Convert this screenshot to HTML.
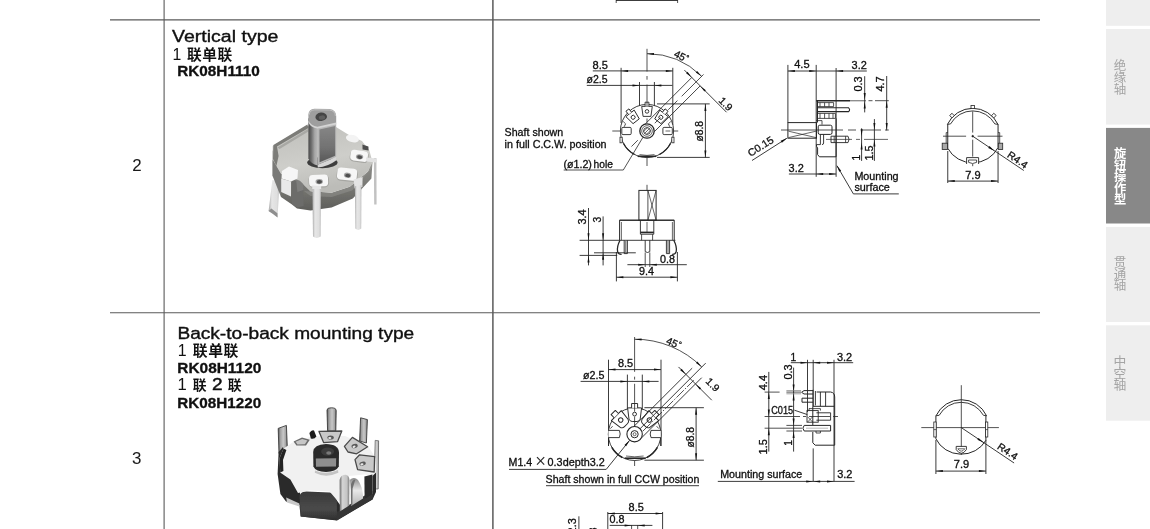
<!DOCTYPE html>
<html><head><meta charset="utf-8"><title>RK08H</title>
<style>
html,body{margin:0;padding:0;background:#fff;}
body{width:1150px;height:529px;overflow:hidden;position:relative;font-family:'Liberation Sans', sans-serif;}
svg{position:absolute;left:0;top:0;display:block;will-change:transform;}
svg text{font-family:'Liberation Sans', sans-serif;}
</style></head><body>
<svg width="1150" height="529" viewBox="0 0 1150 529">
<defs>

<filter id="soft" x="-5%" y="-5%" width="110%" height="110%"><feGaussianBlur stdDeviation="0.55"/></filter>
<filter id="soft2" x="-5%" y="-5%" width="110%" height="110%"><feGaussianBlur stdDeviation="0.9"/></filter>
<linearGradient id="p1side" x1="0" y1="0" x2="0" y2="1"><stop offset="0" stop-color="#989894"/><stop offset="0.5" stop-color="#7e7e7a"/><stop offset="1" stop-color="#5e5e5a"/></linearGradient>
<linearGradient id="p1top" x1="0" y1="0" x2="0.3" y2="1"><stop offset="0" stop-color="#bebeba"/><stop offset="0.6" stop-color="#cececa"/><stop offset="1" stop-color="#bcbcb8"/></linearGradient>
<linearGradient id="p1shaft" x1="0" y1="0" x2="0" y2="1"><stop offset="0" stop-color="#868686"/><stop offset="0.6" stop-color="#727272"/><stop offset="1" stop-color="#585858"/></linearGradient>
<linearGradient id="p1shaftL" x1="0" y1="0" x2="1" y2="0"><stop offset="0" stop-color="#4e4e4e"/><stop offset="0.3" stop-color="#6a6a6a"/><stop offset="0.7" stop-color="#a8a8a8"/><stop offset="1" stop-color="#b8b8b8"/></linearGradient>
<linearGradient id="p1leg" x1="0" y1="0" x2="1" y2="0"><stop offset="0" stop-color="#a8a8a8"/><stop offset="0.3" stop-color="#e6e6e6"/><stop offset="0.8" stop-color="#dedede"/><stop offset="1" stop-color="#b4b4b4"/></linearGradient>


<linearGradient id="p2leg" x1="0" y1="0" x2="1" y2="0"><stop offset="0" stop-color="#4a4a4a"/><stop offset="0.2" stop-color="#9c9c9c"/><stop offset="0.55" stop-color="#c8c8c8"/><stop offset="0.85" stop-color="#a0a0a0"/><stop offset="1" stop-color="#4e4e4e"/></linearGradient>
<linearGradient id="p2leg2" x1="0" y1="0" x2="1" y2="0"><stop offset="0" stop-color="#6a6a6a"/><stop offset="0.3" stop-color="#d4d4d4"/><stop offset="0.75" stop-color="#c4c4c4"/><stop offset="1" stop-color="#7a7a7a"/></linearGradient>
<linearGradient id="p2clip" x1="0" y1="0" x2="0" y2="1"><stop offset="0" stop-color="#3a3a3a"/><stop offset="0.6" stop-color="#4a4a4a"/><stop offset="1" stop-color="#2e2e2e"/></linearGradient>
<linearGradient id="p2silver" x1="0" y1="0" x2="0" y2="1"><stop offset="0" stop-color="#8a8a8a"/><stop offset="0.45" stop-color="#e8e8e8"/><stop offset="1" stop-color="#b4b4b4"/></linearGradient>

</defs>
<rect x="1106" y="0.00" width="44" height="25.80" fill="#eeeeee"/>
<rect x="1106" y="29.00" width="44" height="95.60" fill="#eeeeee"/>
<rect x="1106" y="127.90" width="44" height="95.60" fill="#888888"/>
<rect x="1106" y="226.90" width="44" height="95.10" fill="#eeeeee"/>
<rect x="1106" y="325.30" width="44" height="95.40" fill="#eeeeee"/>
<text fill="#a4a4a4" font-size="12.5" style="font-family:'Liberation Sans','Noto Sans CJK SC',sans-serif;"><tspan x="1113.77" y="70.33">绝</tspan><tspan x="1113.77" y="82.00">缘</tspan><tspan x="1113.77" y="93.67">轴</tspan></text>
<text fill="#ffffff" font-size="12.3" font-weight="bold" style="font-family:'Liberation Sans','Noto Sans CJK SC',sans-serif;"><tspan x="1113.94" y="158.14">旋</tspan><tspan x="1113.94" y="169.66">钮</tspan><tspan x="1113.94" y="181.18">操</tspan><tspan x="1113.94" y="192.70">作</tspan><tspan x="1113.94" y="204.22">型</tspan></text>
<text fill="#a4a4a4" font-size="12.5" style="font-family:'Liberation Sans','Noto Sans CJK SC',sans-serif;"><tspan x="1113.70" y="267.39">贯</tspan><tspan x="1113.70" y="278.84">通</tspan><tspan x="1113.70" y="290.29">轴</tspan></text>
<text fill="#a4a4a4" font-size="12.8" style="font-family:'Liberation Sans','Noto Sans CJK SC',sans-serif;"><tspan x="1113.60" y="366.35">中</tspan><tspan x="1113.60" y="377.72">空</tspan><tspan x="1113.60" y="389.09">轴</tspan></text>
<line x1="110.00" y1="19.90" x2="1040.00" y2="19.90" stroke="#5a5a5a" stroke-width="1.10"/>
<line x1="110.00" y1="312.80" x2="1040.00" y2="312.80" stroke="#5a5a5a" stroke-width="1.10"/>
<line x1="164.10" y1="0.00" x2="164.10" y2="529.00" stroke="#5a5a5a" stroke-width="1.10"/>
<line x1="492.90" y1="0.00" x2="492.90" y2="529.00" stroke="#5a5a5a" stroke-width="1.50"/>
<text x="136.90" y="171.10" font-size="16.90" font-weight="normal" text-anchor="middle" fill="#1a1a1a" stroke="#1a1a1a" stroke-width="0.05">2</text>
<text x="136.70" y="463.90" font-size="16.90" font-weight="normal" text-anchor="middle" fill="#1a1a1a" stroke="#1a1a1a" stroke-width="0.05">3</text>
<text x="172.00" y="41.60" font-size="15.80" font-weight="normal" text-anchor="start" fill="#101010" stroke="#101010" stroke-width="0.35" textLength="106.40" lengthAdjust="spacingAndGlyphs">Vertical type</text>
<text x="186.89" y="59.51" font-size="14.7" font-weight="bold" fill="#111" letter-spacing="0.65" style="font-family:'Liberation Sans','Noto Sans CJK SC',sans-serif;">联单联</text>
<text x="177.20" y="76.40" font-size="13.80" font-weight="bold" text-anchor="start" fill="#101010" stroke="#101010" stroke-width="0.30" textLength="82.60" lengthAdjust="spacingAndGlyphs">RK08H1110</text>
<text x="177.40" y="338.70" font-size="15.80" font-weight="normal" text-anchor="start" fill="#101010" stroke="#101010" stroke-width="0.35" textLength="236.80" lengthAdjust="spacingAndGlyphs">Back-to-back mounting type</text>
<text x="192.69" y="355.67" font-size="14.8" font-weight="bold" fill="#111" letter-spacing="0.65" style="font-family:'Liberation Sans','Noto Sans CJK SC',sans-serif;">联单联</text>
<text x="177.30" y="372.70" font-size="13.80" font-weight="bold" text-anchor="start" fill="#101010" stroke="#101010" stroke-width="0.30" textLength="84.00" lengthAdjust="spacingAndGlyphs">RK08H1120</text>
<text x="192.71" y="389.95" font-size="13.8" font-weight="bold" fill="#111" style="font-family:'Liberation Sans','Noto Sans CJK SC',sans-serif;">联</text>
<text x="227.82" y="389.95" font-size="13.8" font-weight="bold" fill="#111" style="font-family:'Liberation Sans','Noto Sans CJK SC',sans-serif;">联</text>
<text x="211.90" y="390.40" font-size="16.60" font-weight="normal" text-anchor="start" fill="#101010" stroke="#101010" stroke-width="0.45" textLength="10.60" lengthAdjust="spacingAndGlyphs">2</text>
<text x="177.30" y="407.70" font-size="13.80" font-weight="bold" text-anchor="start" fill="#101010" stroke="#101010" stroke-width="0.30" textLength="84.00" lengthAdjust="spacingAndGlyphs">RK08H1220</text>
<g filter="url(#soft)"><path d="M373.8 158 L376.4 158 L376.6 204.5 L374.2 204.5 Z" fill="#c2c2c2"/><path d="M272.4 180 L279.4 182 L277.6 217.6 L273.0 214.0 L268.6 211.0 Z" fill="url(#p1leg)"/><path d="M268.6 211.0 L273.0 214.0 L277.6 217.6 L277.4 213.2 L271.4 208.6 Z" fill="#8e8e8e"/><path d="M272.6 150 L272.6 176 L281 184 L281 197 L292 204.6 L297 208.4 L310.5 210.4 L331.6 207.6 L352.8 198.6 L371.4 178.6 L372.6 160 L368 171.6 L349.8 186.8 L331.6 192.8 L310.5 191.3 L299.9 180.7 L280.2 173.2 Z" fill="url(#p1side)"/><path d="M304 191 L310.5 191.6 L331.6 193.1 L349.8 187.1 L368 172 L372.4 162 L372.0 168 L352 190.5 L331.6 197.0 L310.5 196.0 Z" fill="#a4a4a0" opacity="0.35"/><path d="M291.6 180 L303 182 L303.6 206 L297 207.4 L292 204 Z" fill="#6c6c6a"/><path d="M296 178 L303.4 180 L303.4 190 L297.4 192 Z" fill="#7e7e7c"/><path d="M272.7 146 L307.5 125.7 L336 127 L349.8 135.4 L362 141 L369.4 150.5 L372.6 162.6 L367.9 171.6 L349.8 186.8 L331.6 192.8 L310.5 191.3 L299.9 180.7 L280.2 173.2 L272.7 159.5 Z" fill="url(#p1top)"/><path d="M273.4 145.0 L307.4 124.6 L308.4 128.0 L277.0 146.6 L278.6 156 L276.4 166 L273.0 159 Z" fill="#7c7c78"/><path d="M277.4 147.4 L308.0 129.0 L308.4 131.6 L279.6 149.0 Z" fill="#a8a8a4"/><path d="M281.9 171 L289 166.6 L298 170 L297.5 178.6 L291 181.4 L281.6 178.6 Z" fill="#f6f6f6"/><path d="M281.2 178.6 L291 181.6 L291 196.4 L281.2 192.0 Z" fill="#e9e9e9"/><path d="M272.6 160 L281 174 L281 197 L272.6 176 Z" fill="#7a7a78"/><ellipse cx="352.4" cy="138.6" rx="6.6" ry="3.6" fill="#f3f3f3" transform="rotate(14 352.4 138.6)"/><path d="M362.4 144.6 L368.4 146.4 L368.6 150.6 L362.6 149.4 Z" fill="#4e4e4e"/><g transform="translate(359.2 156.6) rotate(8.0)"><rect x="-9.4" y="-5.8" width="18.8" height="11.6" rx="4.2" fill="#a6a6a2"/><rect x="-8.9" y="-6.2" width="17.4" height="10.8" rx="3.6" fill="#f6f6f6"/><ellipse cx="0.4" cy="0.2" rx="3.7" ry="2.6" fill="#a2a2a2"/><ellipse cx="0.6" cy="0.5" rx="2.6" ry="1.8" fill="#505050"/></g><g transform="translate(347.2 175.0) rotate(6.0)"><rect x="-10.6" y="-6.4" width="21.2" height="12.8" rx="4.2" fill="#a6a6a2"/><rect x="-10.1" y="-6.8" width="19.8" height="12.0" rx="3.6" fill="#f6f6f6"/><ellipse cx="0.4" cy="0.2" rx="3.7" ry="2.6" fill="#a2a2a2"/><ellipse cx="0.6" cy="0.5" rx="2.6" ry="1.8" fill="#505050"/></g><g transform="translate(318.8 181.4) rotate(-2.0)"><rect x="-10.2" y="-6.2" width="20.4" height="12.4" rx="4.2" fill="#a6a6a2"/><rect x="-9.7" y="-6.6" width="19.0" height="11.6" rx="3.6" fill="#f6f6f6"/><ellipse cx="0.4" cy="0.2" rx="3.7" ry="2.6" fill="#a2a2a2"/><ellipse cx="0.6" cy="0.5" rx="2.6" ry="1.8" fill="#505050"/></g><path d="M353.6 179.4 L362.6 177.0 L362.4 187 L354.6 188.4 Z" fill="#e4e4e4"/><path d="M312.2 185.4 L321.2 186.0 L321.0 192 L312.4 192 Z" fill="#e6e6e6"/><path d="M366.0 157.4 L376.4 158.4 L376.4 162.6 L366.4 161.6 Z" fill="#e2e2e2"/><path d="M312.4 189 L320.9 189 L320.6 236.6 Q316.6 239.4 313.0 236.6 Z" fill="url(#p1leg)"/><path d="M354.9 186.3 L361.4 185.0 L361.2 228.6 Q358.2 231.2 355.4 228.6 Z" fill="url(#p1leg)"/><ellipse cx="322.4" cy="162.6" rx="15.2" ry="5.6" fill="#3e3e3e"/><path d="M308.4 118 L317.4 127.0 L317.6 165.4 Q311 164.0 308.4 158.4 Z" fill="url(#p1shaftL)"/><path d="M317.4 127.4 L336.2 123.2 L336.2 157.0 L317.6 164.8 Z" fill="#b6b6b6"/><path d="M319.4 129.6 L335.2 126.0 L335.2 155.8 L319.6 162.2 Z" fill="url(#p1shaft)"/><path d="M317.6 164.8 L336.2 157.0 L336.0 160.6 Q328 166.8 317.8 167.4 Z" fill="#d6d6d6"/><path d="M308.4 114.6 Q308.6 109.2 314.4 108.8 L329.6 109.0 Q336.0 109.8 336.2 116.0 L336.2 123.6 L317.4 127.8 Q310.8 126.2 308.4 121.4 Z" fill="#9e9e9e"/><path d="M308.4 120.4 Q311.0 125.6 317.4 126.8 L336.2 122.6 L336.2 124.4 L317.4 128.6 Q310.6 127.2 308.4 122.4 Z" fill="#d4d4d4"/><path d="M309.2 114.8 Q309.4 110.2 314.6 109.8 L329.4 110.0 Q335.2 110.6 335.4 116.0" fill="none" stroke="#c4c4c4" stroke-width="0.9"/><ellipse cx="321.2" cy="116.8" rx="5.8" ry="4.2" fill="#444" transform="rotate(-6 321.2 116.8)"/><ellipse cx="322.0" cy="117.6" rx="3.2" ry="2.2" fill="#5e5e5e" transform="rotate(-6 322 117.6)"/></g>
<g filter="url(#soft)"><path d="M327.0 410.0 Q327.2 407.6 331.4 407.8 Q336.0 407.8 336.2 410.4 L335.8 431.0 L327.6 431.0 Z" fill="url(#p2leg)" stroke="#3c3c3c" stroke-width="0.9"/><path d="M360.6 417.8 L367.4 419.6 L366.4 443.0 L359.6 441.0 Z" fill="url(#p2leg)" stroke="#3c3c3c" stroke-width="0.9"/><path d="M278.2 428.4 L286.4 425.4 L287.4 449.6 L279.0 453.6 Z" fill="url(#p2leg)" stroke="#3c3c3c" stroke-width="0.9"/><path d="M375.2 440.4 L378.6 440.8 L378.2 489 L374.0 489 Z" fill="url(#p2leg2)" stroke="#555" stroke-width="0.7"/><path d="M278.6 452 L283 447 L290 470 L300 492 L300 497 L336.6 500 L345 512 L372.4 494 L372.4 474 L376 470 L376 492 L372.6 499.4 L337 520.4 L300.6 516.6 L299.4 505 L286 501.6 L280.4 494 L277.6 474 Z" fill="#2c2c2c"/><path d="M299.6 495.6 Q301 491.6 306 491.6 L330 492.6 Q335.6 493.4 336.8 499.8 L337.0 520.2 L300.8 516.4 Z" fill="url(#p2clip)"/><path d="M286.2 497.6 L299.4 503.4 L299.4 506.6 L287 502.6 Z" fill="#c8c8c8"/><path d="M337 512 L372.4 491 L372.6 499.2 L337 520.2 Z" fill="#353535"/><path d="M283.6 448.6 L294 441.6 L312 436.4 L345 436.0 L368 446 L375.6 458 L376 472.6 L372.4 476 L364.6 474.6 L349 476 L339.4 501.6 L336.6 499.8 L329.6 491.6 L310 490.2 L298 493.0 L290.4 479.6 L280.2 472.6 L279.6 458 Z" fill="#f1f1f1"/><path d="M279.6 458 L283.6 448.6 L286.4 450 L283 460 L283.4 471 L280.2 472.6 Z" fill="#222"/><path d="M293.6 441.4 L302 437.6 L309.8 439.8 L306.0 445.4 L296.4 445.6 Z" fill="#6c6c6c"/><path d="M295.6 441.8 L302.2 439.0 L307.4 440.6 L304.8 444.2 L297.4 444.4 Z" fill="#c6c6c6"/><path d="M309.4 433.0 Q311.6 429.4 314.0 430.4 L316.4 436.6 Q314.4 439.6 310.8 438.6 Z" fill="#1e1e1e"/><path d="M319.0 431.4 L341.8 431.0 L337.6 441.6 L323.6 442.6 Z" fill="#c9c9c9" stroke="#4a4a4a" stroke-width="1.3" stroke-linejoin="round"/><ellipse cx="330.6" cy="437.4" rx="3.2" ry="2.0" fill="#5a5a5a" transform="rotate(0 330.6 437.4)"/><ellipse cx="329.8" cy="437.9" rx="1.6" ry="1.0" fill="#e8e8e8" transform="rotate(0 330.6 437.4)"/><path d="M344.4 446.4 L352.4 437.4 L367.6 446.8 L356.6 453.8 L348.0 452.0 Z" fill="#c9c9c9" stroke="#4a4a4a" stroke-width="1.3" stroke-linejoin="round"/><ellipse cx="354.6" cy="446.0" rx="3.2" ry="2.0" fill="#5a5a5a" transform="rotate(-20 354.6 446.0)"/><ellipse cx="353.8" cy="446.5" rx="1.6" ry="1.0" fill="#e8e8e8" transform="rotate(-20 354.6 446.0)"/><path d="M355.0 459.6 L359.6 454.8 L374.6 456.6 L374.2 472.0 L357.6 469.6 Z" fill="#c9c9c9" stroke="#4a4a4a" stroke-width="1.3" stroke-linejoin="round"/><ellipse cx="362.6" cy="463.6" rx="3.2" ry="2.0" fill="#5a5a5a" transform="rotate(-15 362.6 463.6)"/><ellipse cx="361.8" cy="464.1" rx="1.6" ry="1.0" fill="#e8e8e8" transform="rotate(-15 362.6 463.6)"/><path d="M313.2 452 Q313.6 444.4 326 444 Q338.6 444.4 339.0 452.4 L338.8 466.6 Q336 472.0 326 472.0 Q315.6 472.0 313.4 466.6 Z" fill="#2a2a2a"/><ellipse cx="327.6" cy="451.6" rx="6.6" ry="4.2" fill="#3c3c3c"/><ellipse cx="328.8" cy="453.0" rx="2.6" ry="1.7" fill="#7a7a7a"/><path d="M315.8 458.6 L336.2 458.2 L336.0 466.4 L316.0 466.8 Z" fill="#8e8e8e"/><path d="M315.0 470.6 Q326 475.4 338.0 470.0 L338.4 472.8 Q326 478.6 314.8 472.8 Z" fill="#c4c4c4"/><path d="M339.6 480 Q340.6 474.6 346 474.8 Q349.2 475.6 349.4 480 L349.2 505.6 L339.8 511.4 Z" fill="url(#p2leg2)"/><path d="M349.6 480 Q354 476 358 480 Q362 486 363.0 494.6 L363.0 498.6 L351.0 506.0 Z" fill="url(#p2silver)"/><path d="M351.0 484 Q352.4 479.6 355.4 479.4 L352.6 488.6 L352.4 505.0 L351.0 506.0 Z" fill="#707070"/><path d="M364.4 476.4 L372.4 474.6 L372.4 494.2 L364.6 499.0 Z" fill="#2c2c2c"/></g>
<text x="176.9" y="59.70" font-size="15.8" text-anchor="middle" fill="#111">1</text>
<text x="182.2" y="355.60" font-size="15.9" text-anchor="middle" fill="#111">1</text>
<text x="182.2" y="390.40" font-size="16.6" text-anchor="middle" fill="#111">1</text>
<line x1="647.00" y1="48.80" x2="647.00" y2="71.50" stroke="#262626" stroke-width="0.80"/>
<line x1="647.00" y1="76.00" x2="647.00" y2="79.70" stroke="#262626" stroke-width="0.80"/>
<line x1="647.00" y1="84.60" x2="647.00" y2="101.50" stroke="#262626" stroke-width="0.80"/>
<line x1="647.00" y1="139.80" x2="647.00" y2="149.60" stroke="#262626" stroke-width="0.80"/>
<line x1="647.00" y1="152.60" x2="647.00" y2="166.00" stroke="#262626" stroke-width="0.80"/>
<line x1="612.30" y1="131.00" x2="621.50" y2="131.00" stroke="#262626" stroke-width="0.80"/>
<line x1="635.00" y1="131.00" x2="639.30" y2="131.00" stroke="#262626" stroke-width="0.80"/>
<line x1="655.00" y1="131.00" x2="658.40" y2="131.00" stroke="#262626" stroke-width="0.80"/>
<line x1="672.60" y1="131.00" x2="678.20" y2="131.00" stroke="#262626" stroke-width="0.80"/>
<path d="M647.00 53.70 A77.30 77.30 0 0 1 701.66 76.34" fill="none" stroke="#262626" stroke-width="0.80" />
<polygon points="647.00,53.70 654.03,52.94 653.96,54.94" fill="#111"/>
<polygon points="701.66,76.34 695.79,72.40 697.13,70.91" fill="#111"/>
<text x="673.20" y="56.20" font-size="10.20" font-weight="normal" text-anchor="start" fill="#101010" stroke="#101010" stroke-width="0.30" transform="rotate(26.0 673.20 56.20)">45</text>
<text x="684.60" y="59.60" font-size="8.00" font-weight="normal" text-anchor="start" fill="#101010" stroke="#101010" stroke-width="0.30" transform="rotate(26.0 684.60 59.60)">°</text>
<line x1="592.80" y1="70.90" x2="672.80" y2="70.90" stroke="#262626" stroke-width="0.90"/>
<line x1="621.10" y1="67.80" x2="621.10" y2="123.00" stroke="#262626" stroke-width="0.90"/>
<line x1="672.80" y1="67.80" x2="672.80" y2="125.00" stroke="#262626" stroke-width="0.90"/>
<polygon points="621.10,70.90 628.10,69.90 628.10,71.90" fill="#111"/>
<polygon points="672.80,70.90 665.80,71.90 665.80,69.90" fill="#111"/>
<text x="592.60" y="69.00" font-size="10.20" font-weight="normal" text-anchor="start" fill="#101010" stroke="#101010" stroke-width="0.30" textLength="15.40" lengthAdjust="spacingAndGlyphs">8.5</text>
<line x1="586.80" y1="85.40" x2="672.40" y2="85.40" stroke="#262626" stroke-width="0.90"/>
<line x1="639.50" y1="82.00" x2="639.50" y2="112.00" stroke="#262626" stroke-width="0.90"/>
<line x1="654.40" y1="82.00" x2="654.40" y2="112.00" stroke="#262626" stroke-width="0.90"/>
<polygon points="639.50,85.40 632.50,86.40 632.50,84.40" fill="#111"/>
<polygon points="654.40,85.40 661.40,84.40 661.40,86.40" fill="#111"/>
<text x="586.60" y="82.80" font-size="10.20" font-weight="normal" text-anchor="start" fill="#101010" stroke="#101010" stroke-width="0.30" textLength="21.00" lengthAdjust="spacingAndGlyphs">ø2.5</text>
<line x1="657.00" y1="103.90" x2="709.70" y2="103.90" stroke="#262626" stroke-width="0.90"/>
<line x1="657.00" y1="157.40" x2="709.70" y2="157.40" stroke="#262626" stroke-width="0.90"/>
<line x1="705.40" y1="103.90" x2="705.40" y2="157.40" stroke="#262626" stroke-width="0.90"/>
<polygon points="705.40,103.90 706.40,110.90 704.40,110.90" fill="#111"/>
<polygon points="705.40,157.40 704.40,150.40 706.40,150.40" fill="#111"/>
<text x="703.40" y="141.50" font-size="10.20" font-weight="normal" text-anchor="start" fill="#101010" stroke="#101010" stroke-width="0.30" transform="rotate(-90.0 703.40 141.50)" textLength="20.60" lengthAdjust="spacingAndGlyphs">ø8.8</text>
<circle cx="647.00" cy="131.00" r="26.60" fill="#fff" stroke="#262626" stroke-width="0.90"/>
<path d="M670.49 143.49 A26.60 26.60 0 0 1 659.49 154.49" fill="none" stroke="#262626" stroke-width="1.35" />
<path d="M634.51 154.49 A26.60 26.60 0 0 1 623.51 143.49" fill="none" stroke="#262626" stroke-width="1.35" />
<path d="M637.7 156.3 L656.3 156.3" fill="none" stroke="#262626" stroke-width="1.60" />
<path d="M639.5 154.6 Q647 156.2 654.5 154.6" fill="none" stroke="#262626" stroke-width="0.70" />
<rect x="620.00" y="137.20" width="2.20" height="5.60" rx="0.00" fill="#fff" stroke="#262626" stroke-width="0.80"/>
<rect x="671.80" y="137.20" width="2.20" height="5.60" rx="0.00" fill="#fff" stroke="#262626" stroke-width="0.80"/>
<rect x="621.80" y="127.40" width="9.40" height="7.20" rx="1.20" fill="#fff" stroke="#262626" stroke-width="0.90"/>
<rect x="662.90" y="127.40" width="9.40" height="7.20" rx="1.20" fill="#fff" stroke="#262626" stroke-width="0.90"/>
<line x1="665.50" y1="131.00" x2="670.30" y2="131.00" stroke="#262626" stroke-width="0.70"/>
<path d="M623.2 121.5 L625.6 123.8 L624.2 126.8" fill="none" stroke="#262626" stroke-width="0.80" />
<path d="M670.8 121.5 L668.4 123.8 L669.8 126.8" fill="none" stroke="#262626" stroke-width="0.80" />
<g transform="translate(647.00 111.40) rotate(0.0)" stroke="#262626" stroke-width="0.90" stroke-linejoin="round"><path d="M-5.3 -5 L5.3 -5 L3.9 5 L-3.9 5 Z" fill="#fff"/><path d="M-1.9 -5 L-1.9 -9.2 L1.9 -9.2 L1.9 -5" fill="#fff"/><circle r="1.80" fill="#fff"/></g>
<g transform="translate(633.10 117.30) rotate(-38.0)" stroke="#262626" stroke-width="0.90" stroke-linejoin="round"><path d="M-5.3 -5 L5.3 -5 L3.9 5 L-3.9 5 Z" fill="#fff"/><path d="M-1.9 -5 L-1.9 -9.2 L1.9 -9.2 L1.9 -5" fill="#fff"/><circle r="2.00" fill="#fff"/></g>
<g transform="translate(660.90 117.30) rotate(38.0)" stroke="#262626" stroke-width="0.90" stroke-linejoin="round"><path d="M-5.3 -5 L5.3 -5 L3.9 5 L-3.9 5 Z" fill="#fff"/><path d="M-1.9 -5 L-1.9 -9.2 L1.9 -9.2 L1.9 -5" fill="#fff"/><circle r="2.00" fill="#fff"/></g>
<line x1="647.00" y1="101.50" x2="647.00" y2="106.00" stroke="#262626" stroke-width="0.80"/>
<line x1="647.00" y1="118.50" x2="647.00" y2="122.50" stroke="#262626" stroke-width="0.80"/>
<line x1="645.37" y1="123.86" x2="691.76" y2="77.47" stroke="#262626" stroke-width="0.85"/>
<line x1="654.28" y1="131.78" x2="700.17" y2="85.89" stroke="#262626" stroke-width="0.85"/>
<line x1="631.44" y1="146.56" x2="637.81" y2="140.19" stroke="#262626" stroke-width="0.80"/>
<line x1="654.78" y1="123.22" x2="660.44" y2="117.56" stroke="#262626" stroke-width="0.80"/>
<line x1="668.21" y1="109.79" x2="677.41" y2="100.59" stroke="#262626" stroke-width="0.80"/>
<line x1="681.65" y1="96.35" x2="703.57" y2="74.43" stroke="#262626" stroke-width="0.80"/>
<line x1="684.41" y1="70.12" x2="726.55" y2="112.26" stroke="#262626" stroke-width="0.90"/>
<polygon points="691.76,77.47 686.10,73.23 687.52,71.82" fill="#111"/>
<polygon points="700.17,85.89 705.83,90.13 704.42,91.54" fill="#111"/>
<text x="718.00" y="101.20" font-size="10.20" font-weight="normal" text-anchor="start" fill="#101010" stroke="#101010" stroke-width="0.30" transform="rotate(45.0 718.00 101.20)" textLength="14.60" lengthAdjust="spacingAndGlyphs">1.9</text>
<circle cx="647.00" cy="131.00" r="7.20" fill="#fff" stroke="#262626" stroke-width="1.30"/>
<circle cx="647.00" cy="131.00" r="5.30" fill="none" stroke="#262626" stroke-width="0.70"/>
<circle cx="647.00" cy="131.00" r="3.40" fill="none" stroke="#262626" stroke-width="0.90"/>
<line x1="644.80" y1="133.20" x2="649.20" y2="128.80" stroke="#262626" stroke-width="0.70"/>
<line x1="643.60" y1="131.60" x2="647.60" y2="127.60" stroke="#262626" stroke-width="0.60"/>
<line x1="646.40" y1="134.40" x2="650.40" y2="130.40" stroke="#262626" stroke-width="0.60"/>
<path d="M563.7 170.0 L623.3 170.0 L643.0 137.2" fill="none" stroke="#262626" stroke-width="0.80" />
<text x="504.60" y="136.00" font-size="10.20" font-weight="normal" text-anchor="start" fill="#101010" stroke="#101010" stroke-width="0.30" textLength="58.60" lengthAdjust="spacingAndGlyphs">Shaft shown</text>
<text x="504.60" y="148.10" font-size="10.20" font-weight="normal" text-anchor="start" fill="#101010" stroke="#101010" stroke-width="0.30" textLength="102.00" lengthAdjust="spacingAndGlyphs">in full C.C.W. position</text>
<text x="563.40" y="167.50" font-size="10.20" font-weight="normal" text-anchor="start" fill="#101010" stroke="#101010" stroke-width="0.30" textLength="28.50" lengthAdjust="spacingAndGlyphs">(ø1.2)</text>
<text x="593.60" y="167.50" font-size="10.20" font-weight="normal" text-anchor="start" fill="#101010" stroke="#101010" stroke-width="0.30" textLength="19.40" lengthAdjust="spacingAndGlyphs">hole</text>
<rect x="638.90" y="190.40" width="17.20" height="29.80" rx="0.00" fill="none" stroke="#262626" stroke-width="1.00"/>
<line x1="647.90" y1="190.40" x2="647.90" y2="220.20" stroke="#262626" stroke-width="0.80"/>
<line x1="647.90" y1="190.40" x2="656.10" y2="220.20" stroke="#262626" stroke-width="0.70"/>
<line x1="656.10" y1="190.40" x2="647.90" y2="220.20" stroke="#262626" stroke-width="0.70"/>
<line x1="647.00" y1="184.80" x2="647.00" y2="190.40" stroke="#262626" stroke-width="0.80"/>
<path d="M619.6 240.3 L619.6 220.2 L674.2 220.2 L674.2 240.3" fill="none" stroke="#262626" stroke-width="1.00" />
<path d="M621.4 240.3 L621.4 222.0 M672.4 240.3 L672.4 222.0" fill="none" stroke="#262626" stroke-width="0.70" />
<line x1="619.60" y1="220.20" x2="674.20" y2="220.20" stroke="#262626" stroke-width="1.10"/>
<path d="M640.4 220.2 L640.4 234.2 L653.8 234.2 L653.8 220.2" fill="none" stroke="#262626" stroke-width="0.90" />
<line x1="640.40" y1="232.40" x2="653.80" y2="232.40" stroke="#262626" stroke-width="1.60"/>
<path d="M641.6 234.2 L641.6 240.3 M652.6 234.2 L652.6 240.3" fill="none" stroke="#262626" stroke-width="0.80" />
<line x1="647.00" y1="222.00" x2="647.00" y2="232.00" stroke="#262626" stroke-width="0.70"/>
<line x1="579.60" y1="240.30" x2="675.40" y2="240.30" stroke="#262626" stroke-width="0.90"/>
<line x1="594.00" y1="252.80" x2="635.80" y2="252.80" stroke="#262626" stroke-width="0.90"/>
<line x1="579.60" y1="255.40" x2="617.20" y2="255.40" stroke="#262626" stroke-width="0.90"/>
<path d="M645.2 240.3 L645.2 251.6 Q647.5 253.4 649.8 251.6 L649.8 240.3" fill="none" stroke="#262626" stroke-width="0.90" />
<line x1="645.20" y1="252.50" x2="645.20" y2="267.00" stroke="#262626" stroke-width="0.80"/>
<line x1="649.80" y1="252.50" x2="649.80" y2="267.00" stroke="#262626" stroke-width="0.80"/>
<path d="M620.0 240.3 Q616.6 247.0 617.6 251.6 Q618.6 254.6 621.6 254.4" fill="none" stroke="#262626" stroke-width="1.30" />
<path d="M624.2 240.3 L624.2 253.6 L627.4 253.6 L627.4 240.3" fill="none" stroke="#262626" stroke-width="0.90" />
<line x1="625.80" y1="241.00" x2="625.80" y2="253.00" stroke="#777" stroke-width="1.30"/>
<path d="M673.8 240.3 Q677.2 247.0 676.2 251.6 Q675.2 254.6 672.2 254.4" fill="none" stroke="#262626" stroke-width="1.30" />
<path d="M669.6 240.3 L669.6 253.6 L666.4 253.6 L666.4 240.3" fill="none" stroke="#262626" stroke-width="0.90" />
<line x1="668.00" y1="241.00" x2="668.00" y2="253.00" stroke="#777" stroke-width="1.30"/>
<line x1="588.50" y1="208.00" x2="588.50" y2="265.40" stroke="#262626" stroke-width="0.90"/>
<line x1="603.10" y1="216.40" x2="603.10" y2="265.40" stroke="#262626" stroke-width="0.90"/>
<polygon points="588.50,240.30 587.50,233.30 589.50,233.30" fill="#111"/>
<polygon points="588.50,255.40 589.50,262.40 587.50,262.40" fill="#111"/>
<polygon points="603.10,240.30 602.10,233.30 604.10,233.30" fill="#111"/>
<polygon points="603.10,252.80 604.10,259.80 602.10,259.80" fill="#111"/>
<text x="586.30" y="224.60" font-size="10.20" font-weight="normal" text-anchor="start" fill="#101010" stroke="#101010" stroke-width="0.30" transform="rotate(-90.0 586.30 224.60)" textLength="15.20" lengthAdjust="spacingAndGlyphs">3.4</text>
<text x="600.80" y="222.60" font-size="10.20" font-weight="normal" text-anchor="start" fill="#101010" stroke="#101010" stroke-width="0.30" transform="rotate(-90.0 600.80 222.60)">3</text>
<line x1="627.40" y1="264.70" x2="686.80" y2="264.70" stroke="#262626" stroke-width="0.90"/>
<polygon points="645.20,264.70 638.20,265.70 638.20,263.70" fill="#111"/>
<polygon points="649.80,264.70 656.80,263.70 656.80,265.70" fill="#111"/>
<text x="660.00" y="262.60" font-size="10.20" font-weight="normal" text-anchor="start" fill="#101010" stroke="#101010" stroke-width="0.30" textLength="15.00" lengthAdjust="spacingAndGlyphs">0.8</text>
<line x1="616.40" y1="252.00" x2="616.40" y2="281.40" stroke="#262626" stroke-width="0.90"/>
<line x1="677.40" y1="252.00" x2="677.40" y2="281.40" stroke="#262626" stroke-width="0.90"/>
<line x1="616.40" y1="277.20" x2="677.40" y2="277.20" stroke="#262626" stroke-width="0.90"/>
<polygon points="616.40,277.20 623.40,276.20 623.40,278.20" fill="#111"/>
<polygon points="677.40,277.20 670.40,278.20 670.40,276.20" fill="#111"/>
<text x="646.60" y="274.70" font-size="10.20" font-weight="normal" text-anchor="middle" fill="#101010" stroke="#101010" stroke-width="0.30" textLength="15.00" lengthAdjust="spacingAndGlyphs">9.4</text>
<line x1="787.90" y1="64.90" x2="787.90" y2="122.60" stroke="#262626" stroke-width="0.90"/>
<line x1="816.20" y1="64.90" x2="816.20" y2="176.80" stroke="#262626" stroke-width="0.90"/>
<line x1="836.10" y1="68.00" x2="836.10" y2="176.80" stroke="#262626" stroke-width="0.90"/>
<line x1="787.90" y1="71.00" x2="866.80" y2="71.00" stroke="#262626" stroke-width="0.90"/>
<polygon points="787.90,71.00 794.90,70.00 794.90,72.00" fill="#111"/>
<polygon points="816.20,71.00 809.20,72.00 809.20,70.00" fill="#111"/>
<polygon points="836.10,71.00 843.10,70.00 843.10,72.00" fill="#111"/>
<text x="794.20" y="68.20" font-size="10.20" font-weight="normal" text-anchor="start" fill="#101010" stroke="#101010" stroke-width="0.30" textLength="15.40" lengthAdjust="spacingAndGlyphs">4.5</text>
<text x="851.60" y="68.80" font-size="10.20" font-weight="normal" text-anchor="start" fill="#101010" stroke="#101010" stroke-width="0.30" textLength="15.20" lengthAdjust="spacingAndGlyphs">3.2</text>
<rect x="787.90" y="122.60" width="28.60" height="15.60" rx="0.00" fill="none" stroke="#262626" stroke-width="1.00"/>
<line x1="788.50" y1="131.20" x2="816.00" y2="137.60" stroke="#262626" stroke-width="0.70"/>
<line x1="788.50" y1="137.60" x2="816.00" y2="131.20" stroke="#262626" stroke-width="0.70"/>
<line x1="781.00" y1="130.00" x2="843.00" y2="130.00" stroke="#262626" stroke-width="0.80"/>
<line x1="848.00" y1="130.00" x2="856.00" y2="130.00" stroke="#262626" stroke-width="0.80"/>
<line x1="862.00" y1="130.00" x2="881.00" y2="130.00" stroke="#262626" stroke-width="0.80"/>
<line x1="885.00" y1="130.00" x2="888.80" y2="130.00" stroke="#262626" stroke-width="0.80"/>
<line x1="816.20" y1="100.70" x2="850.00" y2="100.70" stroke="#262626" stroke-width="1.50"/>
<line x1="850.00" y1="100.70" x2="866.00" y2="100.70" stroke="#888" stroke-width="1.30"/>
<line x1="868.50" y1="100.70" x2="872.50" y2="100.70" stroke="#262626" stroke-width="0.80"/>
<line x1="875.00" y1="100.70" x2="888.80" y2="100.70" stroke="#262626" stroke-width="0.80"/>
<path d="M817.6 102.6 L833.6 102.6 L833.6 106.6 L817.6 106.6 M820.0 102.6 L820.0 106.6 M824.6 102.6 L824.6 106.6 M829.0 102.6 L829.0 106.6" fill="none" stroke="#262626" stroke-width="0.80" />
<path d="M817.6 107.8 L848.6 107.8 Q850.6 109.7 848.6 111.6 L817.6 111.6" fill="none" stroke="#262626" stroke-width="1.10" />
<path d="M817.6 113.4 L835.4 113.4 L835.4 118.4 L817.6 118.4 M820.0 113.4 L820.0 118.4 M824.6 113.4 L824.6 118.4 M829.0 113.4 L829.0 118.4 M833.0 113.4 L833.0 118.4" fill="none" stroke="#262626" stroke-width="0.80" />
<line x1="817.40" y1="100.70" x2="817.40" y2="122.60" stroke="#262626" stroke-width="1.20"/>
<path d="M816.2 120.6 L822.0 120.6 L822.0 124.6" fill="none" stroke="#262626" stroke-width="0.80" />
<rect x="818.20" y="125.20" width="13.80" height="9.20" rx="1.60" fill="none" stroke="#262626" stroke-width="1.00"/>
<path d="M820.4 134.4 L820.4 144.6 L816.4 144.6 M823.6 134.4 L823.6 143.0 Q823.6 144.6 822.0 144.6" fill="none" stroke="#262626" stroke-width="0.90" />
<path d="M816.4 144.6 Q816.4 147.0 817.6 148.0 L817.6 154.6 L819.4 156.8 L836.1 156.8" fill="none" stroke="#262626" stroke-width="1.00" />
<line x1="836.10" y1="118.40" x2="836.10" y2="156.80" stroke="#262626" stroke-width="1.00"/>
<path d="M831.0 136.2 L848.0 136.2 Q850.0 139.4 848.0 142.6 L831.0 142.6 Z" fill="none" stroke="#262626" stroke-width="0.90" />
<line x1="834.20" y1="136.20" x2="834.20" y2="142.60" stroke="#262626" stroke-width="0.80"/>
<line x1="845.60" y1="136.20" x2="845.60" y2="142.60" stroke="#262626" stroke-width="0.80"/>
<line x1="826.00" y1="139.40" x2="852.00" y2="139.40" stroke="#262626" stroke-width="0.70"/>
<line x1="856.00" y1="139.40" x2="860.00" y2="139.40" stroke="#262626" stroke-width="0.70"/>
<line x1="864.00" y1="139.40" x2="888.00" y2="139.40" stroke="#262626" stroke-width="0.70"/>
<line x1="864.70" y1="76.20" x2="864.70" y2="112.40" stroke="#262626" stroke-width="0.90"/>
<line x1="886.70" y1="76.00" x2="886.70" y2="130.40" stroke="#262626" stroke-width="0.90"/>
<polygon points="864.70,100.00 863.70,93.00 865.70,93.00" fill="#111"/>
<polygon points="864.70,101.50 865.70,108.50 863.70,108.50" fill="#111"/>
<polygon points="886.70,100.70 887.70,107.70 885.70,107.70" fill="#111"/>
<polygon points="886.70,130.00 885.70,123.00 887.70,123.00" fill="#111"/>
<text x="862.40" y="91.60" font-size="10.20" font-weight="normal" text-anchor="start" fill="#101010" stroke="#101010" stroke-width="0.30" transform="rotate(-90.0 862.40 91.60)" textLength="15.20" lengthAdjust="spacingAndGlyphs">0.3</text>
<text x="884.00" y="91.60" font-size="10.20" font-weight="normal" text-anchor="start" fill="#101010" stroke="#101010" stroke-width="0.30" transform="rotate(-90.0 884.00 91.60)" textLength="15.20" lengthAdjust="spacingAndGlyphs">4.7</text>
<line x1="861.60" y1="128.30" x2="861.60" y2="160.90" stroke="#262626" stroke-width="0.90"/>
<line x1="874.40" y1="119.10" x2="874.40" y2="160.90" stroke="#262626" stroke-width="0.90"/>
<polygon points="861.60,136.20 860.60,129.20 862.60,129.20" fill="#111"/>
<polygon points="861.60,142.60 862.60,149.60 860.60,149.60" fill="#111"/>
<polygon points="874.40,130.00 873.40,123.00 875.40,123.00" fill="#111"/>
<polygon points="874.40,139.40 875.40,146.40 873.40,146.40" fill="#111"/>
<text x="859.60" y="160.40" font-size="10.20" font-weight="normal" text-anchor="start" fill="#101010" stroke="#101010" stroke-width="0.30" transform="rotate(-90.0 859.60 160.40)">1</text>
<text x="872.80" y="160.60" font-size="10.20" font-weight="normal" text-anchor="start" fill="#101010" stroke="#101010" stroke-width="0.30" transform="rotate(-90.0 872.80 160.60)" textLength="15.00" lengthAdjust="spacingAndGlyphs">1.5</text>
<line x1="752.00" y1="160.50" x2="786.80" y2="138.30" stroke="#262626" stroke-width="0.90"/>
<polygon points="787.20,138.00 781.89,142.69 780.71,140.83" fill="#111"/>
<text x="750.60" y="157.00" font-size="10.20" font-weight="normal" text-anchor="start" fill="#101010" stroke="#101010" stroke-width="0.30" transform="rotate(-32.5 750.60 157.00)" textLength="28.50" lengthAdjust="spacingAndGlyphs">C0.15</text>
<line x1="788.90" y1="174.00" x2="836.10" y2="174.00" stroke="#262626" stroke-width="0.90"/>
<polygon points="816.20,174.00 823.20,173.00 823.20,175.00" fill="#111"/>
<polygon points="836.10,174.00 829.10,175.00 829.10,173.00" fill="#111"/>
<text x="788.60" y="171.50" font-size="10.20" font-weight="normal" text-anchor="start" fill="#101010" stroke="#101010" stroke-width="0.30" textLength="15.20" lengthAdjust="spacingAndGlyphs">3.2</text>
<path d="M837.0 165.8 L853.4 193.9 L898.8 193.9" fill="none" stroke="#262626" stroke-width="0.90" />
<polygon points="836.70,165.20 841.15,170.71 839.25,171.81" fill="#111"/>
<text x="854.40" y="179.70" font-size="10.20" font-weight="normal" text-anchor="start" fill="#101010" stroke="#101010" stroke-width="0.30" textLength="44.20" lengthAdjust="spacingAndGlyphs">Mounting</text>
<text x="854.40" y="190.70" font-size="10.20" font-weight="normal" text-anchor="start" fill="#101010" stroke="#101010" stroke-width="0.30" textLength="35.40" lengthAdjust="spacingAndGlyphs">surface</text>
<line x1="972.70" y1="105.50" x2="972.70" y2="108.40" stroke="#262626" stroke-width="0.80"/>
<line x1="972.70" y1="111.30" x2="972.70" y2="132.60" stroke="#262626" stroke-width="0.80"/>
<line x1="972.70" y1="139.70" x2="972.70" y2="156.60" stroke="#262626" stroke-width="0.80"/>
<line x1="972.70" y1="159.20" x2="972.70" y2="166.20" stroke="#262626" stroke-width="0.80"/>
<line x1="943.00" y1="136.20" x2="966.10" y2="136.20" stroke="#262626" stroke-width="0.80"/>
<line x1="977.60" y1="136.20" x2="1002.50" y2="136.20" stroke="#262626" stroke-width="0.80"/>
<path d="M947.43 124.38 A27.90 27.90 0 0 1 997.97 124.38" fill="none" stroke="#262626" stroke-width="1.00" />
<path d="M950.59 123.90 A25.30 25.30 0 0 1 994.81 123.90" fill="none" stroke="#262626" stroke-width="0.90" />
<line x1="947.43" y1="124.38" x2="950.59" y2="123.90" stroke="#262626" stroke-width="0.90"/>
<line x1="997.97" y1="124.38" x2="994.81" y2="123.90" stroke="#262626" stroke-width="0.90"/>
<path d="M947.75 124.20 L947.75 148.27 A28.00 26.60 0 0 0 998.05 147.50 L998.05 124.20" fill="none" stroke="#262626" stroke-width="1.00" />
<rect x="971.00" y="105.40" width="3.40" height="3.20" rx="0.00" fill="#fff" stroke="#262626" stroke-width="0.80"/>
<rect x="-1.6" y="-1.7" width="3.2" height="3.4" fill="#fff" stroke="#262626" stroke-width="0.8" transform="translate(952.0 115.6) rotate(-42)"/>
<rect x="-1.6" y="-1.7" width="3.2" height="3.4" fill="#fff" stroke="#262626" stroke-width="0.8" transform="translate(993.8 115.6) rotate(42)"/>
<rect x="942.20" y="143.20" width="5.40" height="6.40" rx="0.00" fill="#aaa" stroke="#262626" stroke-width="0.80"/>
<rect x="998.30" y="143.20" width="4.40" height="6.40" rx="0.00" fill="#aaa" stroke="#262626" stroke-width="0.80"/>
<path d="M947.8 132.6 L946.2 132.6 L946.2 143.2 M998.1 132.6 L999.7 132.6 L999.7 143.2" fill="none" stroke="#262626" stroke-width="0.80" />
<path d="M966.6 164.0 L966.6 157.6 L978.6 157.6 L978.6 164.0" fill="#fff" stroke="#262626" stroke-width="0.90" />
<path d="M968.6 160.0 L976.6 160.0 L976.6 162.4 Q972.6 164.6 968.6 162.4 Z" fill="#fff" stroke="#262626" stroke-width="0.80" />
<line x1="972.70" y1="136.20" x2="1023.80" y2="170.50" stroke="#262626" stroke-width="0.90"/>
<circle cx="972.70" cy="136.20" r="0.90" fill="#222" stroke="#262626" stroke-width="0.50"/>
<polygon points="994.60,150.90 988.18,147.91 989.40,146.08" fill="#111"/>
<text x="1006.60" y="156.60" font-size="10.20" font-weight="normal" text-anchor="start" fill="#101010" stroke="#101010" stroke-width="0.30" transform="rotate(33.9 1006.60 156.60)" textLength="22.00" lengthAdjust="spacingAndGlyphs">R4.4</text>
<line x1="947.75" y1="151.00" x2="947.75" y2="183.00" stroke="#262626" stroke-width="0.90"/>
<line x1="998.05" y1="151.00" x2="998.05" y2="183.00" stroke="#262626" stroke-width="0.90"/>
<line x1="947.75" y1="181.10" x2="998.05" y2="181.10" stroke="#262626" stroke-width="0.90"/>
<polygon points="947.75,181.10 954.75,180.10 954.75,182.10" fill="#111"/>
<polygon points="998.05,181.10 991.05,182.10 991.05,180.10" fill="#111"/>
<text x="972.90" y="178.80" font-size="10.20" font-weight="normal" text-anchor="middle" fill="#101010" stroke="#101010" stroke-width="0.30" textLength="15.40" lengthAdjust="spacingAndGlyphs">7.9</text>
<line x1="634.60" y1="337.00" x2="634.60" y2="371.80" stroke="#262626" stroke-width="0.80"/>
<line x1="634.60" y1="376.70" x2="634.60" y2="379.60" stroke="#262626" stroke-width="0.80"/>
<line x1="634.60" y1="383.80" x2="634.60" y2="402.60" stroke="#262626" stroke-width="0.80"/>
<line x1="634.60" y1="438.60" x2="634.60" y2="449.60" stroke="#262626" stroke-width="0.80"/>
<line x1="634.60" y1="452.40" x2="634.60" y2="466.00" stroke="#262626" stroke-width="0.80"/>
<path d="M634.60 339.20 A95.00 95.00 0 0 1 701.78 367.02" fill="none" stroke="#262626" stroke-width="0.80" />
<polygon points="634.60,339.20 641.63,338.44 641.56,340.44" fill="#111"/>
<polygon points="701.78,367.02 695.97,362.98 697.34,361.52" fill="#111"/>
<text x="665.40" y="343.60" font-size="10.20" font-weight="normal" text-anchor="start" fill="#101010" stroke="#101010" stroke-width="0.30" transform="rotate(22.0 665.40 343.60)">45</text>
<text x="677.20" y="346.20" font-size="8.00" font-weight="normal" text-anchor="start" fill="#101010" stroke="#101010" stroke-width="0.30" transform="rotate(22.0 677.20 346.20)">°</text>
<line x1="608.50" y1="369.60" x2="661.00" y2="369.60" stroke="#262626" stroke-width="0.90"/>
<line x1="608.50" y1="359.70" x2="608.50" y2="446.00" stroke="#262626" stroke-width="0.90"/>
<line x1="661.00" y1="359.70" x2="661.00" y2="446.00" stroke="#262626" stroke-width="0.90"/>
<polygon points="608.50,369.60 615.50,368.60 615.50,370.60" fill="#111"/>
<polygon points="661.00,369.60 654.00,370.60 654.00,368.60" fill="#111"/>
<text x="617.90" y="367.10" font-size="10.20" font-weight="normal" text-anchor="start" fill="#101010" stroke="#101010" stroke-width="0.30" textLength="15.20" lengthAdjust="spacingAndGlyphs">8.5</text>
<line x1="580.60" y1="381.40" x2="658.60" y2="381.40" stroke="#262626" stroke-width="0.90"/>
<line x1="627.40" y1="374.60" x2="627.40" y2="414.00" stroke="#262626" stroke-width="0.90"/>
<line x1="642.30" y1="374.60" x2="642.30" y2="414.00" stroke="#262626" stroke-width="0.90"/>
<polygon points="627.40,381.40 620.40,382.40 620.40,380.40" fill="#111"/>
<polygon points="642.30,381.40 649.30,380.40 649.30,382.40" fill="#111"/>
<text x="583.00" y="379.10" font-size="10.20" font-weight="normal" text-anchor="start" fill="#101010" stroke="#101010" stroke-width="0.30" textLength="21.40" lengthAdjust="spacingAndGlyphs">ø2.5</text>
<line x1="644.40" y1="407.70" x2="703.90" y2="407.70" stroke="#262626" stroke-width="0.90"/>
<line x1="644.40" y1="460.20" x2="703.90" y2="460.20" stroke="#262626" stroke-width="0.90"/>
<line x1="696.10" y1="407.70" x2="696.10" y2="460.20" stroke="#262626" stroke-width="0.90"/>
<polygon points="696.10,407.70 697.10,414.70 695.10,414.70" fill="#111"/>
<polygon points="696.10,460.20 695.10,453.20 697.10,453.20" fill="#111"/>
<text x="693.60" y="447.60" font-size="10.20" font-weight="normal" text-anchor="start" fill="#101010" stroke="#101010" stroke-width="0.30" transform="rotate(-90.0 693.60 447.60)" textLength="20.60" lengthAdjust="spacingAndGlyphs">ø8.8</text>
<circle cx="634.60" cy="434.20" r="26.30" fill="#fff" stroke="#262626" stroke-width="0.90"/>
<path d="M657.38 447.35 A26.30 26.30 0 0 1 646.95 457.42" fill="none" stroke="#262626" stroke-width="1.60" />
<path d="M622.25 457.42 A26.30 26.30 0 0 1 611.82 447.35" fill="none" stroke="#262626" stroke-width="1.60" />
<path d="M624.6 458.2 L645.6 458.2" fill="none" stroke="#262626" stroke-width="1.60" />
<path d="M626.0 456.0 Q634.6 457.6 643.6 456.0" fill="none" stroke="#262626" stroke-width="0.70" />
<line x1="608.50" y1="430.00" x2="608.50" y2="446.00" stroke="#262626" stroke-width="1.00"/>
<line x1="660.80" y1="430.00" x2="660.80" y2="446.00" stroke="#262626" stroke-width="1.00"/>
<path d="M608.4 430.4 L619.4 430.4 Q621.0 434.0 619.4 437.6 L608.4 437.6" fill="#fff" stroke="#262626" stroke-width="0.90" />
<path d="M660.8 430.4 L651.0 430.4 Q649.4 434.0 651.0 437.6 L660.8 437.6" fill="#fff" stroke="#262626" stroke-width="0.90" />
<path d="M610.4 428.6 L612.6 426.2 M658.8 428.6 L656.6 426.2" fill="none" stroke="#262626" stroke-width="0.80" />
<g transform="translate(634.60 414.10) rotate(0.0)" stroke="#262626" stroke-width="0.95" stroke-linejoin="round"><path d="M-7.0 -6.2 L7.0 -6.2 L5.6 5.0 Q4.6 7.4 2.4 7.4 L-2.4 7.4 Q-4.6 7.4 -5.6 5.0 Z" fill="#fff"/><path d="M-3.0 -6.2 L-3.0 -10.6 L3.0 -10.6 L3.0 -6.2" fill="#fff"/><circle r="1.90" fill="#fff"/></g>
<g transform="translate(620.70 420.00) rotate(-45.0)" stroke="#262626" stroke-width="0.95" stroke-linejoin="round"><path d="M-7.0 -6.2 L7.0 -6.2 L5.6 5.0 Q4.6 7.4 2.4 7.4 L-2.4 7.4 Q-4.6 7.4 -5.6 5.0 Z" fill="#fff"/><path d="M-3.0 -6.2 L-3.0 -10.6 L3.0 -10.6 L3.0 -6.2" fill="#fff"/><circle r="2.20" fill="#fff"/></g>
<g transform="translate(649.40 420.00) rotate(45.0)" stroke="#262626" stroke-width="0.95" stroke-linejoin="round"><path d="M-7.0 -6.2 L7.0 -6.2 L5.6 5.0 Q4.6 7.4 2.4 7.4 L-2.4 7.4 Q-4.6 7.4 -5.6 5.0 Z" fill="#fff"/><path d="M-3.0 -6.2 L-3.0 -10.6 L3.0 -10.6 L3.0 -6.2" fill="#fff"/><circle r="2.20" fill="#fff"/></g>
<line x1="634.60" y1="402.60" x2="634.60" y2="411.60" stroke="#262626" stroke-width="0.80"/>
<line x1="634.60" y1="416.60" x2="634.60" y2="426.00" stroke="#262626" stroke-width="0.80"/>
<line x1="633.82" y1="426.49" x2="692.16" y2="368.16" stroke="#262626" stroke-width="0.90"/>
<line x1="639.20" y1="440.21" x2="701.70" y2="377.70" stroke="#262626" stroke-width="0.90"/>
<line x1="640.04" y1="428.76" x2="705.66" y2="363.14" stroke="#262626" stroke-width="0.90"/>
<line x1="642.87" y1="431.16" x2="650.65" y2="423.38" stroke="#262626" stroke-width="0.80"/>
<line x1="651.71" y1="422.32" x2="652.77" y2="421.26" stroke="#262626" stroke-width="0.80"/>
<line x1="653.83" y1="420.20" x2="661.97" y2="412.07" stroke="#262626" stroke-width="0.80"/>
<line x1="663.03" y1="411.01" x2="664.09" y2="409.95" stroke="#262626" stroke-width="0.80"/>
<line x1="665.15" y1="408.89" x2="673.28" y2="400.75" stroke="#262626" stroke-width="0.80"/>
<line x1="674.34" y1="399.69" x2="675.40" y2="398.63" stroke="#262626" stroke-width="0.80"/>
<line x1="676.46" y1="397.57" x2="683.89" y2="390.15" stroke="#262626" stroke-width="0.80"/>
<line x1="684.95" y1="389.09" x2="686.01" y2="388.03" stroke="#262626" stroke-width="0.80"/>
<line x1="687.07" y1="386.97" x2="693.78" y2="380.25" stroke="#262626" stroke-width="0.80"/>
<line x1="678.51" y1="366.95" x2="711.75" y2="400.19" stroke="#262626" stroke-width="0.90"/>
<polygon points="685.94,374.38 680.28,370.14 681.69,368.72" fill="#111"/>
<polygon points="695.48,383.92 701.14,388.17 699.72,389.58" fill="#111"/>
<text x="705.00" y="382.00" font-size="10.20" font-weight="normal" text-anchor="start" fill="#101010" stroke="#101010" stroke-width="0.30" transform="rotate(45.0 705.00 382.00)" textLength="14.60" lengthAdjust="spacingAndGlyphs">1.9</text>
<circle cx="634.60" cy="434.20" r="7.70" fill="#fff" stroke="#262626" stroke-width="1.10"/>
<circle cx="634.60" cy="434.20" r="3.60" fill="none" stroke="#262626" stroke-width="1.00"/>
<circle cx="634.60" cy="434.20" r="1.50" fill="none" stroke="#262626" stroke-width="0.70"/>
<path d="M509.0 469.4 L606.2 469.4 L629.6 440.4" fill="none" stroke="#262626" stroke-width="0.90" />
<polygon points="629.70,440.20 626.15,446.33 624.44,444.95" fill="#111"/>
<text x="508.60" y="465.60" font-size="10.20" font-weight="normal" text-anchor="start" fill="#101010" stroke="#101010" stroke-width="0.30" textLength="23.60" lengthAdjust="spacingAndGlyphs">M1.4</text>
<line x1="537.00" y1="457.20" x2="544.20" y2="464.60" stroke="#262626" stroke-width="1.15"/>
<line x1="544.20" y1="457.20" x2="537.00" y2="464.60" stroke="#262626" stroke-width="1.15"/>
<text x="547.60" y="465.60" font-size="10.20" font-weight="normal" text-anchor="start" fill="#101010" stroke="#101010" stroke-width="0.30" textLength="57.20" lengthAdjust="spacingAndGlyphs">0.3depth3.2</text>
<text x="545.60" y="483.00" font-size="10.20" font-weight="normal" text-anchor="start" fill="#101010" stroke="#101010" stroke-width="0.30" textLength="153.80" lengthAdjust="spacingAndGlyphs">Shaft shown in full CCW position</text>
<line x1="546.00" y1="485.70" x2="699.00" y2="485.70" stroke="#262626" stroke-width="0.90"/>
<line x1="607.80" y1="512.00" x2="607.80" y2="529.00" stroke="#262626" stroke-width="0.90"/>
<line x1="662.60" y1="512.00" x2="662.60" y2="529.00" stroke="#262626" stroke-width="0.90"/>
<line x1="607.80" y1="513.50" x2="662.60" y2="513.50" stroke="#262626" stroke-width="0.90"/>
<polygon points="607.80,513.50 614.80,512.50 614.80,514.50" fill="#111"/>
<polygon points="662.60,513.50 655.60,514.50 655.60,512.50" fill="#111"/>
<text x="628.60" y="511.40" font-size="10.20" font-weight="normal" text-anchor="start" fill="#101010" stroke="#101010" stroke-width="0.30" textLength="15.20" lengthAdjust="spacingAndGlyphs">8.5</text>
<line x1="609.70" y1="525.40" x2="652.40" y2="525.40" stroke="#262626" stroke-width="0.90"/>
<polygon points="631.60,525.40 624.60,526.40 624.60,524.40" fill="#111"/>
<polygon points="637.70,525.40 644.70,524.40 644.70,526.40" fill="#111"/>
<line x1="631.60" y1="525.00" x2="631.60" y2="529.00" stroke="#262626" stroke-width="0.80"/>
<line x1="637.70" y1="525.00" x2="637.70" y2="529.00" stroke="#262626" stroke-width="0.80"/>
<text x="609.40" y="523.20" font-size="10.20" font-weight="normal" text-anchor="start" fill="#101010" stroke="#101010" stroke-width="0.30" textLength="15.00" lengthAdjust="spacingAndGlyphs">0.8</text>
<line x1="578.90" y1="516.30" x2="578.90" y2="529.00" stroke="#262626" stroke-width="0.90"/>
<text x="575.60" y="533.40" font-size="10.20" font-weight="normal" text-anchor="start" fill="#101010" stroke="#101010" stroke-width="0.30" transform="rotate(-90.0 575.60 533.40)" textLength="15.20" lengthAdjust="spacingAndGlyphs">2.3</text>
<text x="596.80" y="542.60" font-size="10.20" font-weight="normal" text-anchor="start" fill="#101010" stroke="#101010" stroke-width="0.30" transform="rotate(-90.0 596.80 542.60)" textLength="15.20" lengthAdjust="spacingAndGlyphs">0.3</text>
<line x1="790.80" y1="362.70" x2="853.20" y2="362.70" stroke="#262626" stroke-width="0.90"/>
<line x1="807.50" y1="359.80" x2="807.50" y2="412.00" stroke="#262626" stroke-width="0.90"/>
<line x1="813.20" y1="359.80" x2="813.20" y2="406.00" stroke="#262626" stroke-width="0.90"/>
<line x1="834.00" y1="359.80" x2="834.00" y2="392.00" stroke="#262626" stroke-width="0.90"/>
<polygon points="807.50,362.70 800.50,363.70 800.50,361.70" fill="#111"/>
<polygon points="813.20,362.70 820.20,361.70 820.20,363.70" fill="#111"/>
<polygon points="834.00,362.70 827.00,363.70 827.00,361.70" fill="#111"/>
<text x="790.40" y="361.40" font-size="10.20" font-weight="normal" text-anchor="start" fill="#101010" stroke="#101010" stroke-width="0.30">1</text>
<text x="837.00" y="361.30" font-size="10.20" font-weight="normal" text-anchor="start" fill="#101010" stroke="#101010" stroke-width="0.30" textLength="15.20" lengthAdjust="spacingAndGlyphs">3.2</text>
<line x1="793.60" y1="367.60" x2="793.60" y2="451.60" stroke="#262626" stroke-width="0.90"/>
<line x1="768.80" y1="371.90" x2="768.80" y2="451.60" stroke="#262626" stroke-width="0.90"/>
<polygon points="793.60,391.60 792.60,384.60 794.60,384.60" fill="#111"/>
<polygon points="793.60,393.40 794.60,400.40 792.60,400.40" fill="#111"/>
<polygon points="793.60,425.40 792.60,418.40 794.60,418.40" fill="#111"/>
<polygon points="793.60,431.00 794.60,438.00 792.60,438.00" fill="#111"/>
<polygon points="768.80,392.10 769.80,399.10 767.80,399.10" fill="#111"/>
<polygon points="768.80,416.50 767.80,409.50 769.80,409.50" fill="#111"/>
<polygon points="768.80,428.20 769.80,435.20 767.80,435.20" fill="#111"/>
<text x="792.00" y="379.60" font-size="10.20" font-weight="normal" text-anchor="start" fill="#101010" stroke="#101010" stroke-width="0.30" transform="rotate(-90.0 792.00 379.60)" textLength="15.20" lengthAdjust="spacingAndGlyphs">0.3</text>
<text x="766.80" y="390.20" font-size="10.20" font-weight="normal" text-anchor="start" fill="#101010" stroke="#101010" stroke-width="0.30" transform="rotate(-90.0 766.80 390.20)" textLength="15.20" lengthAdjust="spacingAndGlyphs">4.4</text>
<text x="766.80" y="454.40" font-size="10.20" font-weight="normal" text-anchor="start" fill="#101010" stroke="#101010" stroke-width="0.30" transform="rotate(-90.0 766.80 454.40)" textLength="15.20" lengthAdjust="spacingAndGlyphs">1.5</text>
<text x="792.00" y="445.80" font-size="10.20" font-weight="normal" text-anchor="start" fill="#101010" stroke="#101010" stroke-width="0.30" transform="rotate(-90.0 792.00 445.80)">1</text>
<line x1="764.60" y1="392.10" x2="779.60" y2="392.10" stroke="#262626" stroke-width="0.80"/>
<line x1="786.40" y1="392.10" x2="801.00" y2="392.10" stroke="#262626" stroke-width="0.80"/>
<line x1="764.60" y1="416.50" x2="800.00" y2="416.50" stroke="#262626" stroke-width="0.80"/>
<line x1="803.00" y1="416.50" x2="806.00" y2="416.50" stroke="#262626" stroke-width="0.80"/>
<line x1="809.00" y1="416.50" x2="830.00" y2="416.50" stroke="#262626" stroke-width="0.80"/>
<line x1="833.00" y1="416.50" x2="838.00" y2="416.50" stroke="#262626" stroke-width="0.80"/>
<line x1="764.60" y1="428.20" x2="802.00" y2="428.20" stroke="#262626" stroke-width="0.80"/>
<line x1="786.40" y1="425.40" x2="802.00" y2="425.40" stroke="#262626" stroke-width="0.80"/>
<line x1="786.40" y1="431.00" x2="802.00" y2="431.00" stroke="#262626" stroke-width="0.80"/>
<line x1="786.40" y1="390.60" x2="801.00" y2="390.60" stroke="#777" stroke-width="0.70"/>
<line x1="786.40" y1="393.80" x2="801.00" y2="393.80" stroke="#777" stroke-width="0.70"/>
<text x="771.20" y="414.00" font-size="10.20" font-weight="normal" text-anchor="start" fill="#101010" stroke="#101010" stroke-width="0.30" textLength="22.00" lengthAdjust="spacingAndGlyphs">C015</text>
<line x1="794.40" y1="410.20" x2="807.40" y2="414.60" stroke="#262626" stroke-width="0.90"/>
<path d="M813.0 390.6 L804.0 390.6 L801.6 392.3 L804.0 394.0 L813.0 394.0" fill="none" stroke="#262626" stroke-width="1.00" />
<path d="M813.0 398.2 L802.0 398.2 L802.0 402.2 L813.0 402.2" fill="none" stroke="#262626" stroke-width="1.00" />
<path d="M813.0 389.8 L813.0 406.3 M815.4 391.0 L815.4 405.4" fill="none" stroke="#262626" stroke-width="0.90" />
<path d="M816.6 392.0 L830.6 392.0 Q834.7 392.6 834.7 397.0 L834.7 406.3" fill="none" stroke="#262626" stroke-width="1.00" />
<path d="M820.4 392.0 L820.4 406.3 M825.6 392.0 L825.6 406.3" fill="none" stroke="#262626" stroke-width="0.90" />
<path d="M812.8 406.3 L834.7 406.3 L834.7 445.2 L815.2 445.2 L812.8 442.8 L812.8 432.0" fill="none" stroke="#262626" stroke-width="1.00" />
<line x1="812.80" y1="406.30" x2="812.80" y2="425.00" stroke="#262626" stroke-width="1.00"/>
<line x1="834.00" y1="392.00" x2="834.00" y2="481.40" stroke="#262626" stroke-width="0.90"/>
<rect x="807.00" y="410.60" width="11.20" height="11.60" rx="0.00" fill="none" stroke="#262626" stroke-width="0.90"/>
<line x1="807.60" y1="416.80" x2="812.60" y2="422.00" stroke="#262626" stroke-width="0.70"/>
<line x1="812.60" y1="416.80" x2="807.60" y2="422.00" stroke="#262626" stroke-width="0.70"/>
<path d="M816.4 412.8 L830.6 412.8 L830.6 420.2 L816.4 420.2" fill="none" stroke="#262626" stroke-width="0.90" />
<path d="M809.0 410.6 L809.0 408.6 L820.4 408.6 L820.4 410.6" fill="none" stroke="#262626" stroke-width="0.80" />
<path d="M830.6 425.4 L804.2 425.4 Q801.6 428.2 804.2 431.0 L830.6 431.0 Z" fill="#fff" stroke="#262626" stroke-width="1.00" />
<line x1="806.00" y1="428.20" x2="828.00" y2="428.20" stroke="#888" stroke-width="0.60"/>
<path d="M816.0 431.0 L816.0 433.0 L820.4 433.0 L820.4 431.0" fill="none" stroke="#262626" stroke-width="0.80" />
<line x1="813.20" y1="448.40" x2="813.20" y2="481.40" stroke="#262626" stroke-width="0.90"/>
<line x1="717.80" y1="481.40" x2="854.60" y2="481.40" stroke="#262626" stroke-width="0.90"/>
<polygon points="813.20,481.40 806.20,482.40 806.20,480.40" fill="#111"/>
<polygon points="813.20,481.40 820.20,480.40 820.20,482.40" fill="#111"/>
<polygon points="834.00,481.40 827.00,482.40 827.00,480.40" fill="#111"/>
<text x="720.20" y="477.70" font-size="10.20" font-weight="normal" text-anchor="start" fill="#101010" stroke="#101010" stroke-width="0.30" textLength="82.00" lengthAdjust="spacingAndGlyphs">Mounting surface</text>
<text x="837.20" y="478.10" font-size="10.20" font-weight="normal" text-anchor="start" fill="#101010" stroke="#101010" stroke-width="0.30" textLength="15.20" lengthAdjust="spacingAndGlyphs">3.2</text>
<line x1="961.30" y1="385.20" x2="961.30" y2="454.80" stroke="#262626" stroke-width="0.80"/>
<line x1="921.30" y1="427.60" x2="998.90" y2="427.60" stroke="#262626" stroke-width="0.80"/>
<path d="M936.03 415.78 A27.90 27.90 0 0 1 986.57 415.78" fill="none" stroke="#262626" stroke-width="1.00" />
<path d="M939.19 415.30 A25.30 25.30 0 0 1 983.41 415.30" fill="none" stroke="#262626" stroke-width="0.90" />
<line x1="936.03" y1="415.78" x2="939.19" y2="415.30" stroke="#262626" stroke-width="0.90"/>
<line x1="986.57" y1="415.78" x2="983.41" y2="415.30" stroke="#262626" stroke-width="0.90"/>
<path d="M935.90 415.60 L935.90 438.79 A28.00 26.60 0 0 0 985.90 440.30 L985.90 415.60" fill="none" stroke="#262626" stroke-width="1.00" />
<rect x="933.80" y="422.00" width="2.40" height="15.00" rx="0.00" fill="#fff" stroke="#262626" stroke-width="0.80"/>
<line x1="933.80" y1="429.60" x2="936.20" y2="429.60" stroke="#262626" stroke-width="0.70"/>
<rect x="985.60" y="422.00" width="2.20" height="15.00" rx="0.00" fill="#fff" stroke="#262626" stroke-width="0.80"/>
<line x1="985.60" y1="429.60" x2="987.80" y2="429.60" stroke="#262626" stroke-width="0.70"/>
<path d="M956.2 446.4 L966.4 446.4 L966.4 449.6 Q961.3 457.0 956.2 449.6 Z" fill="#fff" stroke="#262626" stroke-width="0.90" />
<path d="M957.8 448.8 L964.8 448.8 Q961.3 453.6 957.8 448.8 Z" fill="#fff" stroke="#262626" stroke-width="0.70" />
<line x1="961.30" y1="427.60" x2="1014.10" y2="463.00" stroke="#262626" stroke-width="0.90"/>
<polygon points="983.80,442.70 977.37,439.72 978.60,437.89" fill="#111"/>
<text x="996.60" y="448.20" font-size="10.20" font-weight="normal" text-anchor="start" fill="#101010" stroke="#101010" stroke-width="0.30" transform="rotate(33.8 996.60 448.20)" textLength="22.00" lengthAdjust="spacingAndGlyphs">R4.4</text>
<line x1="935.90" y1="440.00" x2="935.90" y2="474.00" stroke="#262626" stroke-width="0.90"/>
<line x1="985.90" y1="440.00" x2="985.90" y2="474.00" stroke="#262626" stroke-width="0.90"/>
<line x1="935.90" y1="471.10" x2="985.90" y2="471.10" stroke="#262626" stroke-width="0.90"/>
<polygon points="935.90,471.10 942.90,470.10 942.90,472.10" fill="#111"/>
<polygon points="985.90,471.10 978.90,472.10 978.90,470.10" fill="#111"/>
<text x="961.50" y="468.30" font-size="10.20" font-weight="normal" text-anchor="middle" fill="#101010" stroke="#101010" stroke-width="0.30" textLength="15.40" lengthAdjust="spacingAndGlyphs">7.9</text>
<line x1="616.00" y1="0.40" x2="677.80" y2="0.40" stroke="#262626" stroke-width="1.00"/>
<line x1="616.20" y1="0.00" x2="616.20" y2="3.00" stroke="#262626" stroke-width="0.80"/>
<line x1="677.60" y1="0.00" x2="677.60" y2="3.00" stroke="#262626" stroke-width="0.80"/>
</svg>
</body></html>
